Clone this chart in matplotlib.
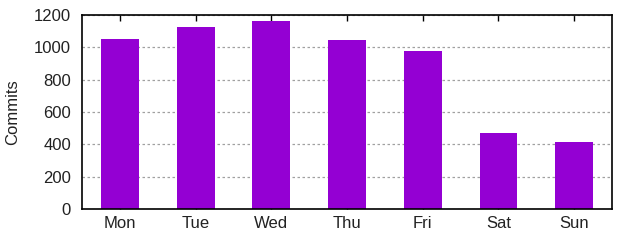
import matplotlib
matplotlib.use('Agg')
import matplotlib.pyplot as plt

days    = ['Mon', 'Tue', 'Wed', 'Thu', 'Fri', 'Sat', 'Sun']
commits = [1051, 1125, 1163, 1045, 977, 470, 414]

plt.rcParams['font.family'] = ['Liberation Sans', 'DejaVu Sans']
plt.rcParams['font.size'] = 12

fig = plt.figure(figsize=(6.4, 2.4), dpi=100)
ax = fig.add_axes([82 / 640, 1 - 209 / 240, 530 / 640, 194 / 240])

x = range(len(days))
ax.bar(x, commits, width=0.5, color='#9400d3', zorder=2)

ax.set_xlim(-0.5, len(days) - 0.5)
ax.set_ylim(0, 1200)
ax.set_xticks(list(x))
ax.set_xticklabels(days)
ax.set_yticks(range(0, 1201, 200))
ax.tick_params(axis='both', direction='in', top=True, right=True,
               length=4, width=1, colors='black', labelcolor='#222222')
ax.tick_params(axis='y', left=False, right=False, pad=8)
ax.tick_params(axis='x', pad=5)
ax.set_ylabel('Commits', color='#222222', labelpad=10)
ax.grid(axis='y', color='#a0a0a0', linestyle=(0, (2, 2)), linewidth=0.9, zorder=1)
for s in ax.spines.values():
    s.set_linewidth(1.2)
    s.set_zorder(3)

fig.savefig('out.png', dpi=100, facecolor='white')
